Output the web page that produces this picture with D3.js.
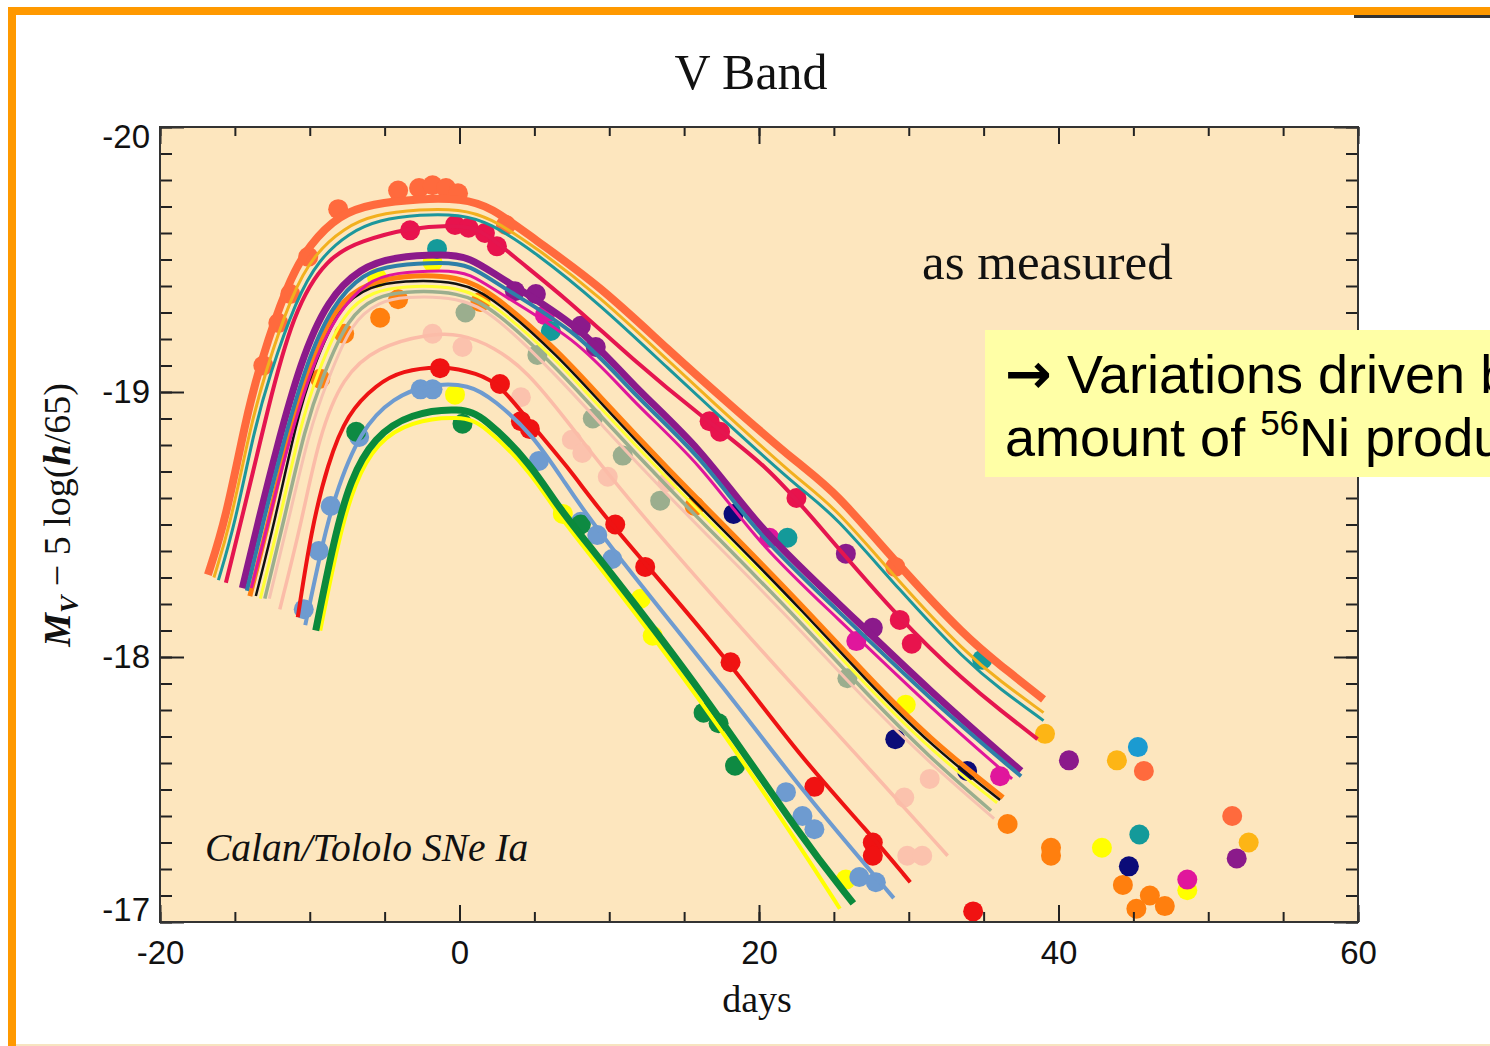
<!DOCTYPE html>
<html>
<head>
<meta charset="utf-8">
<script src="https://cdn.jsdelivr.net/npm/d3@7"></script>
<style>
  body { margin: 0; background: #fff; }
  svg { display: block; }
</style>
</head>
<body>
<svg id="chart"></svg>
<script>
// axis ticks
var xTicks = [-20, 0, 20, 40, 60]
var yTicks = [-20, -19, -18, -17]

// fitted light curves [day, M_V]
var coralCurve = [[-16.8,-18.31],[-15.6,-18.52],[-14.3,-18.89],[-13.3,-19.11],[-11.5,-19.41],[-10.0,-19.56],[-8.0,-19.67],[-5.9,-19.71],[-2.6,-19.73],[0.1,-19.73],[2.1,-19.70],[4.9,-19.58],[9.4,-19.40],[13.9,-19.16],[18.3,-18.94],[22.8,-18.72],[25.0,-18.63],[29.4,-18.34],[33.9,-18.07],[36.1,-17.97],[39.0,-17.84]]
var goldCurve = [[-16.4,-18.30],[-15.3,-18.50],[-14.0,-18.86],[-13.0,-19.07],[-11.2,-19.37],[-9.7,-19.52],[-7.7,-19.62],[-5.7,-19.67],[-2.6,-19.69],[0.0,-19.69],[2.0,-19.66],[5.0,-19.55],[9.4,-19.36],[13.9,-19.12],[18.3,-18.89],[22.8,-18.66],[25.0,-18.57],[29.4,-18.28],[33.9,-18.01],[36.1,-17.91],[39.0,-17.79]]
var tealCurve = [[-16.1,-18.29],[-15.0,-18.50],[-13.7,-18.86],[-12.7,-19.06],[-10.9,-19.35],[-9.4,-19.50],[-7.4,-19.60],[-5.4,-19.65],[-2.6,-19.67],[0.0,-19.67],[2.0,-19.64],[5.0,-19.53],[9.4,-19.33],[13.9,-19.09],[18.3,-18.86],[22.8,-18.63],[25.0,-18.54],[29.4,-18.25],[33.9,-17.98],[36.1,-17.88],[39.0,-17.76]]
var crimsonCurve = [[-15.6,-18.28],[-13.6,-18.74],[-13.0,-18.89],[-11.1,-19.31],[-8.8,-19.51],[-6.6,-19.57],[-3.3,-19.62],[-0.6,-19.63],[1.4,-19.62],[3.4,-19.52],[7.2,-19.35],[11.6,-19.12],[16.1,-18.91],[20.6,-18.72],[24.1,-18.49],[29.4,-18.14],[33.9,-17.90],[36.1,-17.80],[38.6,-17.69]]
var purpleCurve = [[-14.5,-18.26],[-13.4,-18.52],[-12.3,-18.77],[-10.6,-19.12],[-8.8,-19.35],[-6.6,-19.47],[-4.4,-19.51],[-1.1,-19.52],[0.7,-19.51],[2.7,-19.43],[8.1,-19.25],[11.6,-19.02],[16.1,-18.79],[19.9,-18.49],[25.0,-18.22],[31.6,-17.86],[37.5,-17.57]]
var steelCurve = [[-14.2,-18.25],[-13.1,-18.51],[-12.0,-18.76],[-10.3,-19.10],[-8.5,-19.33],[-6.4,-19.45],[-4.4,-19.48],[-1.1,-19.49],[0.7,-19.48],[2.7,-19.40],[8.1,-19.22],[11.6,-18.99],[16.1,-18.76],[19.9,-18.46],[25.0,-18.19],[31.6,-17.83],[37.5,-17.55]]
var magentaCurve = [[-13.9,-18.26],[-12.8,-18.50],[-11.7,-18.75],[-10.0,-19.08],[-8.2,-19.30],[-6.1,-19.42],[-4.4,-19.45],[-1.1,-19.46],[0.7,-19.45],[2.7,-19.37],[8.1,-19.19],[11.6,-18.96],[16.1,-18.73],[19.9,-18.43],[25.0,-18.16],[31.6,-17.80],[36.9,-17.54]]
var orangeCurve = [[-14.0,-18.23],[-12.7,-18.52],[-11.2,-18.89],[-10.0,-19.09],[-8.2,-19.34],[-6.1,-19.41],[-3.9,-19.44],[0.0,-19.44],[2.3,-19.37],[6.7,-19.15],[9.4,-18.98],[13.9,-18.71],[18.3,-18.46],[22.8,-18.20],[27.2,-17.93],[31.4,-17.69],[36.3,-17.47]]
var blackCurve = [[-13.6,-18.23],[-12.3,-18.52],[-10.9,-18.89],[-9.8,-19.09],[-8.0,-19.33],[-5.9,-19.40],[-3.9,-19.42],[0.0,-19.42],[2.4,-19.35],[6.7,-19.13],[9.4,-18.96],[13.9,-18.69],[18.3,-18.44],[22.8,-18.18],[27.2,-17.91],[31.4,-17.67],[36.1,-17.46]]
var yellowCurve = [[-13.3,-18.22],[-12.0,-18.52],[-10.6,-18.88],[-9.5,-19.07],[-7.7,-19.31],[-5.7,-19.38],[-3.9,-19.40],[0.0,-19.40],[2.4,-19.33],[6.7,-19.11],[9.4,-18.94],[13.9,-18.67],[18.3,-18.42],[22.8,-18.16],[27.2,-17.89],[31.4,-17.65],[35.9,-17.45]]
var greyCurve = [[-13.0,-18.22],[-11.7,-18.52],[-10.3,-18.87],[-9.2,-19.05],[-7.4,-19.29],[-5.5,-19.36],[-3.9,-19.38],[0.0,-19.38],[2.4,-19.31],[6.7,-19.08],[9.4,-18.91],[13.9,-18.64],[18.3,-18.39],[22.8,-18.13],[27.2,-17.86],[31.4,-17.62],[35.5,-17.42]]
var salmonCurve = [[-12.7,-18.22],[-11.4,-18.52],[-10.0,-18.86],[-8.9,-19.03],[-7.2,-19.27],[-5.3,-19.34],[-3.9,-19.36],[0.0,-19.36],[2.4,-19.29],[6.7,-19.05],[9.4,-18.88],[13.9,-18.61],[18.3,-18.36],[22.8,-18.10],[27.2,-17.83],[31.4,-17.60],[35.7,-17.39]]
var pinkCurve = [[-12.0,-18.18],[-10.5,-18.52],[-9.4,-18.83],[-7.8,-19.06],[-5.5,-19.17],[-2.1,-19.22],[0.1,-19.22],[2.3,-19.17],[4.5,-19.08],[7.2,-18.89],[10.3,-18.66],[16.1,-18.28],[22.8,-17.86],[27.5,-17.57],[32.6,-17.25]]
var redCurve = [[-10.8,-18.15],[-9.9,-18.48],[-8.8,-18.73],[-7.5,-18.92],[-5.5,-19.03],[-3.9,-19.08],[-1.1,-19.10],[1.2,-19.07],[2.7,-19.03],[4.9,-18.87],[7.2,-18.72],[9.4,-18.55],[12.6,-18.34],[17.9,-17.99],[22.8,-17.62],[27.3,-17.34],[30.1,-17.15]]
var blueCurve = [[-10.3,-18.12],[-9.3,-18.39],[-8.4,-18.60],[-6.6,-18.86],[-4.4,-18.98],[-2.1,-19.03],[0.7,-19.03],[2.3,-18.97],[4.9,-18.84],[7.0,-18.66],[9.4,-18.46],[18.3,-17.84],[22.8,-17.50],[29.0,-17.09]]
var yellowGCurve = [[-9.3,-18.10],[-8.1,-18.44],[-7.0,-18.66],[-5.5,-18.81],[-3.3,-18.89],[0.1,-18.91],[1.6,-18.88],[4.9,-18.69],[6.5,-18.54],[9.4,-18.34],[16.5,-17.81],[22.7,-17.29],[25.4,-17.05]]
var greenCurve = [[-9.6,-18.10],[-8.4,-18.44],[-7.3,-18.67],[-5.7,-18.83],[-3.3,-18.92],[0.1,-18.94],[1.6,-18.91],[4.9,-18.72],[6.5,-18.57],[9.4,-18.37],[16.6,-17.84],[22.8,-17.32],[26.3,-17.07]]

// observed points [day, M_V]
var coralDots = [[-13.1,-19.10],[-12.1,-19.26],[-11.3,-19.37],[-10.1,-19.51],[-8.1,-19.69],[-4.1,-19.76],[-2.7,-19.77],[-1.8,-19.78],[-0.9,-19.77],[-0.1,-19.75],[3.1,-19.63],[29.1,-18.34],[45.7,-17.57],[51.6,-17.40]]
var crimsonDots = [[-3.3,-19.61],[-0.3,-19.63],[0.6,-19.62],[1.7,-19.60],[2.5,-19.55],[16.7,-18.89],[17.4,-18.85],[22.5,-18.60],[29.4,-18.14],[30.2,-18.05]]
var purpleDots = [[3.7,-19.38],[5.1,-19.37],[8.1,-19.25],[9.1,-19.17],[25.8,-18.39],[27.6,-18.11],[40.7,-17.61],[51.9,-17.24]]
var yellowDots = [[42.9,-17.28],[48.6,-17.12],[25.8,-17.16],[12.9,-18.08],[6.9,-18.54],[29.8,-17.82],[-1.8,-19.49],[-5.5,-19.43],[-0.3,-18.99],[12.1,-18.22]]
var magentaDots = [[5.7,-19.29],[20.7,-18.45],[26.5,-18.06],[36.1,-17.55],[48.6,-17.16]]
var tealDots = [[-1.5,-19.54],[6.1,-19.23],[21.9,-18.45],[34.9,-17.99],[45.4,-17.33]]
var cyanDots = [[45.3,-17.66]]
var goldDots = [[39.1,-17.71],[43.9,-17.61],[52.7,-17.30]]
var orangeDots = [[-9.3,-19.05],[-7.7,-19.22],[-5.3,-19.28],[-4.1,-19.35],[1.4,-19.34],[15.7,-18.57],[36.6,-17.37],[39.5,-17.28],[39.5,-17.25],[44.3,-17.14],[45.2,-17.05],[46.1,-17.10],[47.1,-17.06]]
var navyDots = [[44.7,-17.21],[29.1,-17.69],[33.9,-17.57],[18.3,-18.54]]
var redDots = [[-1.3,-19.09],[2.7,-19.03],[4.1,-18.89],[4.7,-18.86],[10.4,-18.50],[12.4,-18.34],[18.1,-17.98],[23.7,-17.51],[27.6,-17.30],[27.6,-17.25],[34.3,-17.04]]
var blueDots = [[-10.4,-18.18],[-9.4,-18.40],[-8.6,-18.57],[-6.7,-18.83],[-2.6,-19.01],[-1.8,-19.01],[5.3,-18.74],[8.1,-18.51],[9.2,-18.46],[10.2,-18.37],[21.8,-17.49],[22.9,-17.40],[23.7,-17.35],[26.7,-17.17],[27.8,-17.15]]
var greenDots = [[0.2,-18.88],[16.3,-17.79],[17.3,-17.75],[18.4,-17.59],[-6.9,-18.85],[8.1,-18.50]]
var greyDots = [[0.4,-19.30],[5.2,-19.14],[8.9,-18.90],[10.9,-18.76],[13.4,-18.59],[25.9,-17.92]]
var pinkDots = [[-1.8,-19.22],[0.2,-19.17],[4.1,-18.98],[7.5,-18.82],[8.2,-18.77],[9.9,-18.68],[13.9,-18.66],[29.7,-17.47],[31.4,-17.54],[29.9,-17.25],[30.9,-17.25]]

var serif = "'Liberation Serif','Times New Roman',serif"
var sans = "'Liberation Sans',Arial,sans-serif"

var width = 1490, height = 1046
var plot = { left: 160, right: 1358, top: 127, bottom: 922 }

var svg = d3.select("#chart").attr("width", width).attr("height", height)

var x = d3.scaleLinear().domain([-20, 60]).range([plot.left, plot.right])
var y = d3.scaleLinear().domain([-20, -17]).range([plot.top, plot.bottom])

// slide frame
svg.append("rect").attr("x", 8).attr("y", 7).attr("width", width).attr("height", 8).attr("fill", "#ff9900")
svg.append("rect").attr("x", 8).attr("y", 7).attr("width", 8).attr("height", height).attr("fill", "#ff9900")
svg.append("rect").attr("x", 1354).attr("y", 15).attr("width", 140).attr("height", 3).attr("fill", "#333")
svg.append("rect").attr("x", 16).attr("y", 1044).attr("width", width).attr("height", 2).attr("fill", "#f7e4c0")

// plot background
svg.append("rect")
  .attr("x", plot.left).attr("y", plot.top)
  .attr("width", plot.right - plot.left).attr("height", plot.bottom - plot.top)
  .attr("fill", "#fde6be")

svg.append("clipPath").attr("id", "clip").append("rect")
  .attr("x", plot.left).attr("y", plot.top)
  .attr("width", plot.right - plot.left).attr("height", plot.bottom - plot.top)

var data = svg.append("g").attr("clip-path", "url(#clip)")

var dotSets = [
  { pts: pinkDots, c: "#fbc2ad" },
  { pts: greyDots, c: "#9bae8e" },
  { pts: yellowDots, c: "#ffff00" },
  { pts: orangeDots, c: "#ff7f0e" },
  { pts: navyDots, c: "#0b0b78" },
  { pts: coralDots, c: "#ff6a3d" },
  { pts: crimsonDots, c: "#e8134d" },
  { pts: purpleDots, c: "#8b1a8b" },
  { pts: magentaDots, c: "#e0169c" },
  { pts: tealDots, c: "#149a9a" },
  { pts: cyanDots, c: "#1b9bd1" },
  { pts: goldDots, c: "#fdb515" },
  { pts: redDots, c: "#f01212" },
  { pts: blueDots, c: "#6e9bd0" },
  { pts: greenDots, c: "#0e8a42" }
]

dotSets.forEach(function (s) {
  data.selectAll(null)
    .data(s.pts)
    .enter()
    .append("circle")
    .attr("cx", function (d) { return x(d[0]) })
    .attr("cy", function (d) { return y(d[1]) })
    .attr("r", 10)
    .attr("fill", s.c)
})

var line = d3.line()
  .x(function (d) { return x(d[0]) })
  .y(function (d) { return y(d[1]) })
  .curve(d3.curveBasis)

var curveSets = [
  { pts: pinkCurve, c: "#fbbca8", w: 3.5 },
  { pts: salmonCurve, c: "#f6c2b0", w: 3 },
  { pts: greyCurve, c: "#9bae8e", w: 3.5 },
  { pts: yellowCurve, c: "#ffff33", w: 3 },
  { pts: orangeCurve, c: "#ff7f11", w: 5 },
  { pts: blackCurve, c: "#111111", w: 2.5 },
  { pts: purpleCurve, c: "#8b1a8b", w: 7 },
  { pts: steelCurve, c: "#2e7fa8", w: 4 },
  { pts: magentaCurve, c: "#e0169c", w: 3 },
  { pts: crimsonCurve, c: "#e5154f", w: 4 },
  { pts: coralCurve, c: "#ff6a3d", w: 8 },
  { pts: goldCurve, c: "#f2b01e", w: 3 },
  { pts: tealCurve, c: "#1c979c", w: 3 },
  { pts: redCurve, c: "#ee1313", w: 4 },
  { pts: blueCurve, c: "#6e9bd0", w: 4 },
  { pts: yellowGCurve, c: "#ffff00", w: 4 },
  { pts: greenCurve, c: "#0b8a3c", w: 7 }
]

curveSets.forEach(function (s) {
  data.append("path")
    .datum(s.pts)
    .attr("d", line)
    .attr("fill", "none")
    .attr("stroke", s.c)
    .attr("stroke-width", s.w)
})

// axes, ticks pointing inward
function styleAxis(g) {
  g.select(".domain").remove()
  g.selectAll("line").attr("stroke", "#222").attr("stroke-width", 2)
  g.selectAll("text").style("font-family", sans).style("font-size", "33px").attr("fill", "#111")
}
var plainNum = function (d) { return String(d) }

svg.append("g").attr("transform", "translate(0," + plot.bottom + ")")
  .call(d3.axisBottom(x).ticks(16).tickSize(-10).tickFormat("")).call(styleAxis)
svg.append("g").attr("transform", "translate(0," + plot.bottom + ")")
  .call(d3.axisBottom(x).tickValues(xTicks).tickSize(-17).tickPadding(19).tickFormat(plainNum)).call(styleAxis)
svg.append("g").attr("transform", "translate(0," + plot.top + ")")
  .call(d3.axisTop(x).ticks(16).tickSize(-9).tickFormat("")).call(styleAxis)
svg.append("g").attr("transform", "translate(0," + plot.top + ")")
  .call(d3.axisTop(x).tickValues(xTicks).tickSize(-17).tickFormat("")).call(styleAxis)

svg.append("g").attr("transform", "translate(" + plot.left + ",0)")
  .call(d3.axisLeft(y).ticks(30).tickSize(-12).tickFormat("")).call(styleAxis)
var yAxis = svg.append("g").attr("transform", "translate(" + plot.left + ",0)")
  .call(d3.axisLeft(y).tickValues(yTicks).tickSize(-24).tickPadding(10).tickFormat(plainNum)).call(styleAxis)
yAxis.selectAll("text").attr("dy", function (d) {
  if (d === -20) return "0.62em"
  if (d === -17) return "-0.05em"
  return "0.32em"
})
svg.append("g").attr("transform", "translate(" + plot.right + ",0)")
  .call(d3.axisRight(y).ticks(30).tickSize(-12).tickFormat("")).call(styleAxis)
svg.append("g").attr("transform", "translate(" + plot.right + ",0)")
  .call(d3.axisRight(y).tickValues(yTicks).tickSize(-24).tickFormat("")).call(styleAxis)

// frame
svg.append("rect")
  .attr("x", plot.left).attr("y", plot.top)
  .attr("width", plot.right - plot.left).attr("height", plot.bottom - plot.top)
  .attr("fill", "none").attr("stroke", "#333").attr("stroke-width", 2)

// texts
svg.append("text").attr("x", 751).attr("y", 89).attr("text-anchor", "middle")
  .style("font-family", serif).style("font-size", "50px").attr("fill", "#111").text("V Band")

svg.append("text").attr("x", 922).attr("y", 279)
  .style("font-family", serif).style("font-size", "51px").attr("fill", "#111").text("as measured")

svg.append("text").attr("x", 205).attr("y", 861)
  .style("font-family", serif).style("font-style", "italic").style("font-size", "39.5px").attr("fill", "#111")
  .text("Calan/Tololo SNe Ia")

svg.append("text").attr("x", 757).attr("y", 1012).attr("text-anchor", "middle")
  .style("font-family", serif).style("font-size", "38px").attr("fill", "#111").text("days")

var yl = svg.append("text")
  .attr("transform", "translate(70,515) rotate(-90)")
  .attr("text-anchor", "middle")
  .style("font-family", serif).style("font-size", "38px").attr("fill", "#111")
yl.append("tspan").style("font-weight", "bold").style("font-style", "italic").text("M")
yl.append("tspan").attr("dy", 8).style("font-size", "26px").style("font-weight", "bold").style("font-style", "italic").text("V")
yl.append("tspan").attr("dy", -8).text(" \u2212 5 log(")
yl.append("tspan").style("font-weight", "bold").style("font-style", "italic").text("h")
yl.append("tspan").text("/65)")

// highlighted note box (runs past the slide edge, as in the original)
svg.append("rect").attr("x", 985).attr("y", 330).attr("width", 520).attr("height", 147).attr("fill", "#ffffa6")
var l1 = svg.append("text").attr("x", 1005).attr("y", 393)
  .style("font-family", sans).style("font-size", "54px").attr("fill", "#000")
l1.append("tspan").style("font-family", "'DejaVu Sans',sans-serif").style("font-weight", "bold").style("font-size", "56px").text("\u2192")
l1.append("tspan").text(" Variations driven by")
var l2 = svg.append("text").attr("x", 1005).attr("y", 456)
  .style("font-family", sans).style("font-size", "54px").attr("fill", "#000")
l2.append("tspan").text("amount of ")
l2.append("tspan").attr("dy", -21).style("font-size", "35px").text("56")
l2.append("tspan").attr("dy", 21).text("Ni produced")
</script>
</body>
</html>
